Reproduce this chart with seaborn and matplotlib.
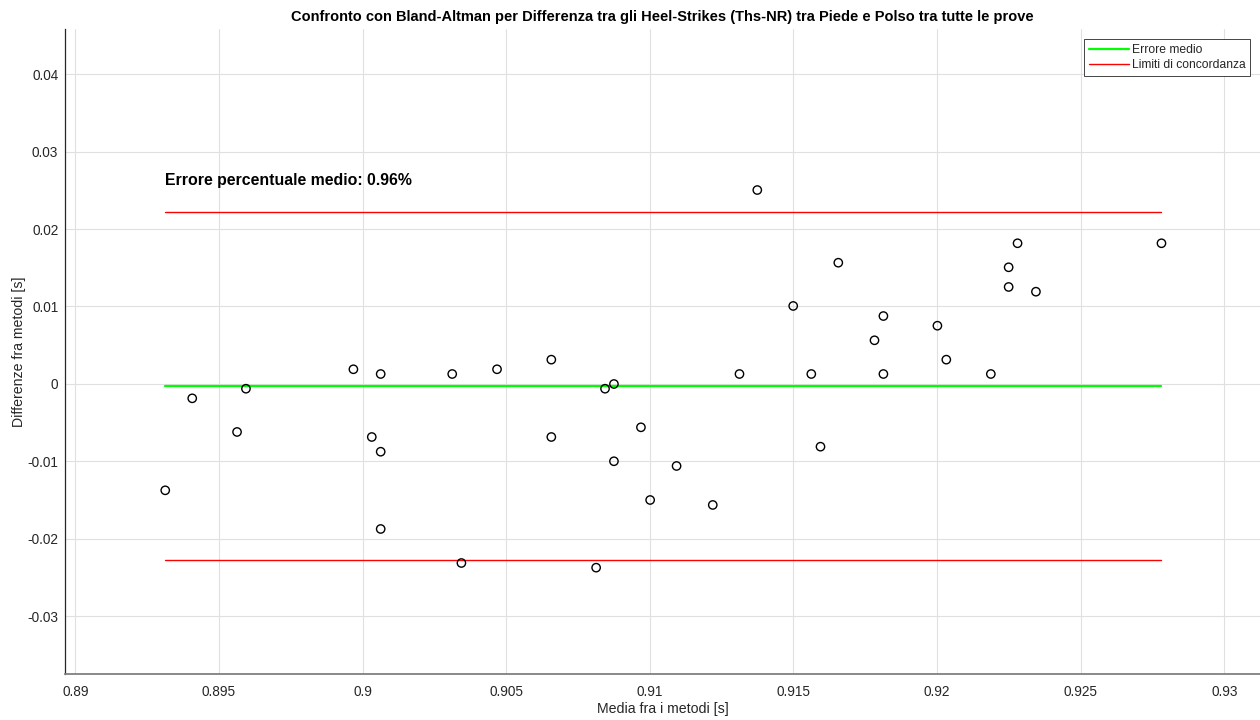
import numpy as np
import pandas as pd
import matplotlib
matplotlib.use("Agg")
import matplotlib.pyplot as plt
from matplotlib.ticker import FuncFormatter, MultipleLocator
from matplotlib.lines import Line2D
import seaborn as sns

# Mean of the two methods [s] and their difference [s] for each trial
media = [0.89313, 0.89407, 0.89563, 0.89594, 0.89968, 0.90032, 0.90063, 0.90063,
         0.90063, 0.90312, 0.90344, 0.90468, 0.90657, 0.90657, 0.90813, 0.90844,
         0.90875, 0.90875, 0.90969, 0.91001, 0.91093, 0.91219, 0.91312, 0.91374,
         0.91499, 0.91562, 0.91594, 0.91656, 0.91782, 0.91813, 0.91813, 0.92001,
         0.92032, 0.92187, 0.92249, 0.92249, 0.92280, 0.92344, 0.92781]
differenza = [-0.01372, -0.00185, -0.00619, -0.00061, 0.00190, -0.00684, 0.00129, -0.00874,
              -0.01871, 0.00129, -0.02310, 0.00190, 0.00314, -0.00684, -0.02370, -0.00061,
              0.00000, -0.00997, -0.00559, -0.01497, -0.01058, -0.01561, 0.00129, 0.02503,
              0.01007, 0.00129, -0.00809, 0.01565, 0.00564, 0.00129, 0.00877, 0.00752,
              0.00314, 0.00129, 0.01506, 0.01252, 0.01816, 0.01191, 0.01816]

errore_percentuale = 0.96

titolo = "Confronto con Bland-Altman per Differenza tra gli Heel-Strikes (Ths-NR) tra Piede e Polso tra tutte le prove"
etichetta_x = "Media fra i metodi [s]"
etichetta_y = "Differenze fra metodi [s]"
legenda = ["Errore medio", "Limiti di concordanza"]

df = pd.DataFrame({"media": media, "diff": differenza})

# Bland-Altman statistics
bias = df["diff"].mean()
sd = df["diff"].std(ddof=1)
loa_sup = bias + 1.96 * sd
loa_inf = bias - 1.96 * sd
x_min, x_max = df["media"].min(), df["media"].max()

sns.set_theme(style="white")
plt.rcParams["font.family"] = ["Liberation Sans", "DejaVu Sans"]
plt.rcParams["axes.unicode_minus"] = False

fig = plt.figure(figsize=(12.6, 7.2), dpi=100)
ax = fig.add_axes([0.0518, 0.0635, 0.9482, 0.8958])

ax.grid(True, color="#e0e0e0", linewidth=0.8)
ax.set_axisbelow(True)

ax.plot([x_min, x_max], [bias, bias], color="#00ff00", linewidth=1.6, zorder=2)
ax.plot([x_min, x_max], [loa_sup, loa_sup], color="#ff0000", linewidth=1.0, zorder=2)
ax.plot([x_min, x_max], [loa_inf, loa_inf], color="#ff0000", linewidth=1.0, zorder=2)

sns.scatterplot(data=df, x="media", y="diff", ax=ax, marker="o", s=36,
                facecolor="none", edgecolor="black", linewidth=1.0,
                legend=False, zorder=3)

ax.text(x_min, 0.0263, f"Errore percentuale medio: {errore_percentuale:.2f}%",
        fontsize=11.4, fontweight="bold", color="black", va="center", ha="left")

ax.set_xlim(0.88965, 0.93124)
ax.set_ylim(-0.03746, 0.04577)
ax.xaxis.set_major_locator(MultipleLocator(0.005))
ax.yaxis.set_major_locator(MultipleLocator(0.01))
fmt = FuncFormatter(lambda v, p: "0" if abs(v) < 1e-12 else f"{v:g}")
ax.xaxis.set_major_formatter(fmt)
ax.yaxis.set_major_formatter(fmt)

ax.tick_params(axis="both", direction="in", length=6.5, width=0.8,
               color="#262626", labelcolor="#262626", labelsize=9.8, pad=5)
ax.tick_params(axis="x", pad=7.5)

for side in ("top", "right"):
    ax.spines[side].set_visible(False)
ax.spines["left"].set_color("#262626")
ax.spines["left"].set_linewidth(0.9)
ax.spines["bottom"].set_color("#808080")
ax.spines["bottom"].set_linewidth(1.3)

ax.set_xlabel(etichetta_x, fontsize=10.2, color="#262626", labelpad=2.5)
ax.set_ylabel(etichetta_y, fontsize=10.2, color="#262626", labelpad=1)
ax.set_title(titolo, fontsize=10.5, fontweight="bold", color="black", pad=6)

handles = [Line2D([0], [0], color="#00ff00", linewidth=1.6),
           Line2D([0], [0], color="#ff0000", linewidth=1.0)]
leg = ax.legend(handles, legenda, loc="upper right", fontsize=8.7,
                frameon=True, fancybox=False, framealpha=1, edgecolor="#262626",
                borderaxespad=0.8, handlelength=3.3, handletextpad=0.25,
                borderpad=0.4, labelspacing=0.3)
leg.get_frame().set_linewidth(0.6)

fig.savefig("out.png", dpi=100)
